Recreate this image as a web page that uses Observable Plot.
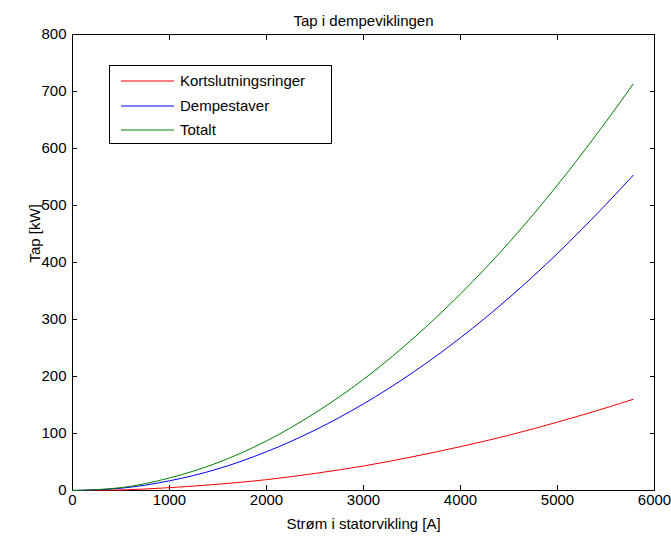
<!DOCTYPE html>
<html>
<head>
<meta charset="utf-8">
<script src="https://cdn.jsdelivr.net/npm/d3@7"></script>
<script src="https://cdn.jsdelivr.net/npm/@observablehq/plot@0.6"></script>
<style>
  html, body { margin: 0; padding: 0; background: #fff; }
  #wrap { position: relative; width: 671px; height: 542px; font-family: "Liberation Sans", Arial, sans-serif; }
  #legend { position: absolute; left: 109px; top: 65px; width: 221px; height: 77px; border: 1px solid #000; background: #fff; }
  .row { position: absolute; left: 0; height: 20px; width: 100%; }
  .row svg { position: absolute; left: 11px; top: 5px; }
  .row .lb { position: absolute; left: 70px; top: 1px; font-size: 15px; white-space: nowrap; color: #000; }
</style>
</head>
<body>
<div id="wrap"></div>
<script>
const title = "Tap i dempeviklingen";
const xLabel = "Strøm i statorvikling [A]";
const yLabel = "Tap [kW]";
const seriesNames = ["Kortslutningsringer", "Dempestaver", "Totalt"];
const seriesColors = ["#ff0000", "#0000ff", "#008000"];
const current = [0, 500, 1000, 1500, 2000, 2500, 3000, 3500, 4000, 4500, 5000, 5500, 5780];
const ringer  = [0, 1, 5, 11, 19, 30, 43, 59, 77, 97, 120, 145, 160];
const staver  = [0, 4, 17, 38, 68, 106, 152, 206, 268, 338, 416, 502, 553];
const totalt  = [0, 5, 22, 49, 87, 136, 195, 265, 345, 435, 536, 647, 713];
const xTicks = [0, 1000, 2000, 3000, 4000, 5000, 6000];
const yTicks = [0, 100, 200, 300, 400, 500, 600, 700, 800];

const values = [ringer, staver, totalt];
const data = [];
values.forEach((arr, i) => arr.forEach((v, j) => data.push({x: current[j], y: v, s: seriesNames[i]})));

const font = "Liberation Sans, Arial, sans-serif";
const fmt = d => String(d);
const chart = Plot.plot({
  width: 671,
  height: 542,
  marginTop: 34,
  marginBottom: 52,
  marginLeft: 72,
  marginRight: 17,
  style: {fontFamily: font, fontSize: "15px", background: "#fff", color: "#000"},
  x: {domain: [0, 6000]},
  y: {domain: [0, 800]},
  color: {domain: seriesNames, range: seriesColors},
  marks: [
    Plot.frame({stroke: "#000"}),
    Plot.axisX(xTicks, {anchor: "bottom", tickSize: -5, tickPadding: 9, tickFormat: fmt, label: null, fontSize: 15}),
    Plot.axisX(xTicks, {anchor: "top", tickSize: -5, tickFormat: () => "", label: null}),
    Plot.axisY(yTicks, {anchor: "left", tickSize: -5, tickPadding: 11, tickFormat: fmt, label: null, fontSize: 15}),
    Plot.axisY(yTicks, {anchor: "right", tickSize: -5, tickFormat: () => "", label: null}),
    Plot.line(data, {x: "x", y: "y", z: "s", stroke: "s", strokeWidth: 1, curve: "monotone-x"}),
    Plot.text([title], {frameAnchor: "top", dy: -19, fontSize: 15}),
    Plot.text([xLabel], {frameAnchor: "bottom", dy: 38, fontSize: 15}),
    Plot.text([yLabel], {frameAnchor: "left", dx: -37, rotate: -90, fontSize: 15})
  ]
});
const wrap = document.getElementById("wrap");
wrap.appendChild(chart);

const legend = document.createElement("div");
legend.id = "legend";
seriesNames.forEach((name, i) => {
  const row = document.createElement("div");
  row.className = "row";
  row.style.top = (5 + i * 24.5) + "px";
  const ns = "http://www.w3.org/2000/svg";
  const sw = document.createElementNS(ns, "svg");
  sw.setAttribute("width", "53");
  sw.setAttribute("height", "10");
  const ln = document.createElementNS(ns, "line");
  ln.setAttribute("x1", "0"); ln.setAttribute("x2", "53");
  ln.setAttribute("y1", "5"); ln.setAttribute("y2", "5");
  ln.setAttribute("stroke", seriesColors[i]);
  ln.setAttribute("stroke-width", "1.2");
  sw.appendChild(ln);
  const lb = document.createElement("div");
  lb.className = "lb";
  lb.textContent = name;
  row.appendChild(sw); row.appendChild(lb);
  legend.appendChild(row);
});
wrap.appendChild(legend);
</script>
</body>
</html>
